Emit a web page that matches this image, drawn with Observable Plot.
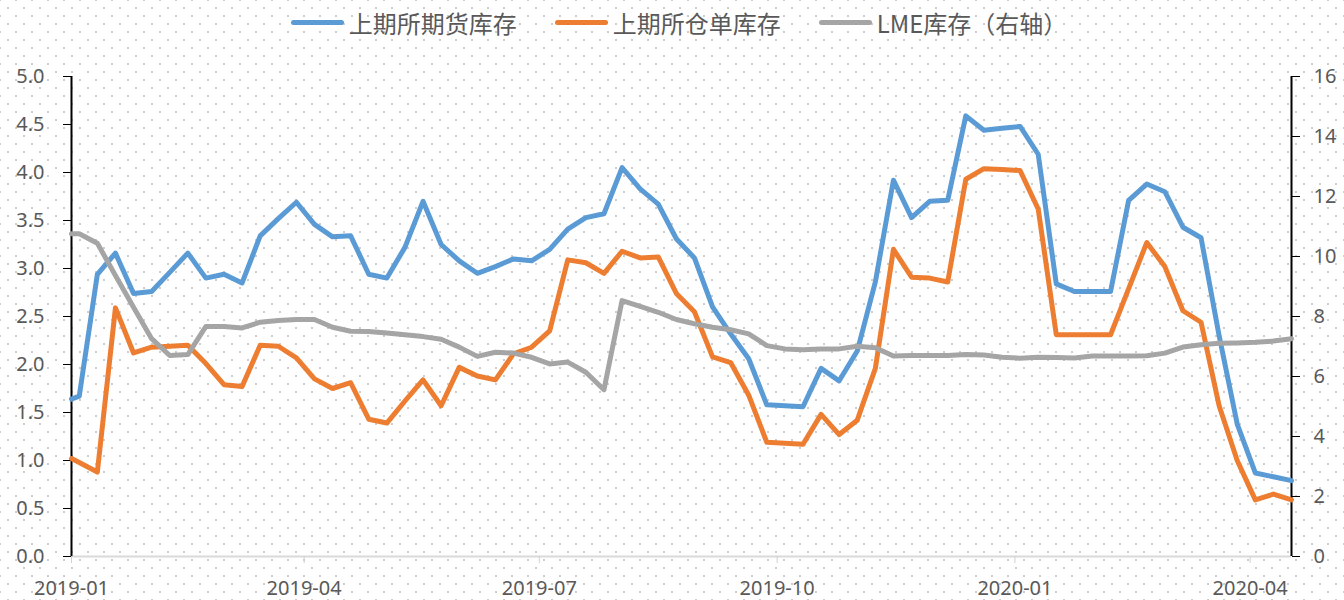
<!DOCTYPE html>
<html>
<head>
<meta charset="utf-8">
<script src="https://cdn.jsdelivr.net/npm/d3@7"></script>
<script src="https://cdn.jsdelivr.net/npm/@observablehq/plot@0.6"></script>
<style>
  html, body { margin: 0; padding: 0; }
  #chart {
    width: 1344px; height: 600px; position: relative; overflow: hidden;
    background-color: #ffffff;
    background-image: radial-gradient(circle, #cccccc 1px, transparent 1.3px),
                      radial-gradient(circle, #cccccc 1px, transparent 1.3px);
    background-size: 16px 16px, 16px 16px;
    background-position: 0 0, 8px 8px;
    font-family: "Noto Sans", "Noto Sans CJK SC", sans-serif;
  }
  #legend {
    height: 44px; display: flex; justify-content: center; align-items: center;
    padding-left: 14px; box-sizing: border-box;
    font-family: "Noto Sans CJK SC", sans-serif; font-size: 24px; color: #595959;
  }
  .item { display: flex; align-items: center; margin: 0 19px; }
  .sw { width: 53px; height: 5px; border-radius: 3px; margin-right: 5px; }
  svg { display: block; }
</style>
</head>
<body>
<div id="chart">
  <div id="legend"></div>
  <div id="plot"></div>
</div>
<script>
// ---- data ----
const dates = [
  "2019-01-01","2019-01-04","2019-01-11","2019-01-18","2019-01-25","2019-02-01","2019-02-08","2019-02-15","2019-02-22",
  "2019-03-01","2019-03-08","2019-03-15","2019-03-22","2019-03-29","2019-04-05","2019-04-12","2019-04-19","2019-04-26",
  "2019-05-03","2019-05-10","2019-05-17","2019-05-24","2019-05-31","2019-06-07","2019-06-14","2019-06-21","2019-06-28",
  "2019-07-05","2019-07-12","2019-07-19","2019-07-26","2019-08-02","2019-08-09","2019-08-16","2019-08-23","2019-08-30",
  "2019-09-06","2019-09-13","2019-09-20","2019-09-27","2019-10-04","2019-10-11","2019-10-18","2019-10-25","2019-11-01",
  "2019-11-08","2019-11-15","2019-11-22","2019-11-29","2019-12-06","2019-12-13","2019-12-20","2019-12-27","2020-01-03",
  "2020-01-10","2020-01-17","2020-01-24","2020-01-31","2020-02-07","2020-02-14","2020-02-21","2020-02-28","2020-03-06",
  "2020-03-13","2020-03-20","2020-03-27","2020-04-03","2020-04-10","2020-04-17"
];
const shfeFutures = [
  1.64,1.67,2.94,3.16,2.74,2.76,2.96,3.16,2.90,2.94,
  2.85,3.34,3.52,3.69,3.46,3.33,3.34,2.94,2.90,3.22,
  3.70,3.25,3.08,2.95,3.02,3.10,3.08,3.20,3.41,3.53,
  3.57,4.05,3.83,3.67,3.31,3.11,2.60,2.32,2.06,1.58,
  1.57,1.56,1.96,1.83,2.14,2.86,3.92,3.53,3.70,3.71,
  4.59,4.44,4.46,4.48,4.19,2.84,2.76,2.76,2.76,3.71,
  3.88,3.80,3.43,3.32,2.30,1.38,0.87,0.83,0.79
];
const shfeWarrant = [
  1.02,0.98,0.88,2.59,2.12,2.18,2.19,2.20,2.01,1.79,
  1.77,2.20,2.19,2.07,1.85,1.75,1.81,1.43,1.39,1.62,
  1.84,1.57,1.97,1.88,1.84,2.11,2.18,2.35,3.09,3.06,
  2.95,3.18,3.11,3.12,2.74,2.55,2.08,2.02,1.68,1.19,
  1.18,1.17,1.48,1.27,1.42,1.96,3.20,2.91,2.90,2.86,
  3.93,4.04,4.03,4.02,3.62,2.31,2.31,2.31,2.31,2.79,
  3.27,3.02,2.56,2.44,1.57,1.00,0.59,0.65,0.59
];
const lmeStock = [
  10.76,10.76,10.44,9.37,8.31,7.26,6.70,6.73,7.67,7.67,
  7.62,7.81,7.87,7.90,7.90,7.64,7.51,7.50,7.45,7.39,
  7.33,7.24,6.98,6.67,6.81,6.78,6.64,6.42,6.48,6.14,
  5.56,8.53,8.34,8.14,7.90,7.76,7.64,7.56,7.42,7.03,
  6.92,6.89,6.92,6.92,7.01,6.96,6.68,6.70,6.70,6.70,
  6.73,6.72,6.64,6.61,6.64,6.63,6.62,6.68,6.68,6.68,
  6.69,6.78,6.98,7.06,7.11,7.12,7.14,7.18,7.26
];
const seriesNames = ["上期所期货库存", "上期所仓单库存", "LME库存（右轴）"];
const seriesColors = ["#5B9BD5", "#ED7D31", "#A5A5A5"];
const leftTicks = [0, 0.5, 1, 1.5, 2, 2.5, 3, 3.5, 4, 4.5, 5];
const rightTicks = [0, 2, 4, 6, 8, 10, 12, 14, 16];
const xTickLabels = ["2019-01", "2019-04", "2019-07", "2019-10", "2020-01", "2020-04"];
const xDomain = ["2019-01-01", "2020-04-17"];
const leftMax = 5, rightMax = 16;

// ---- build ----
const k = leftMax / rightMax;
const parse = d3.utcParse("%Y-%m-%d");
const parseM = d3.utcParse("%Y-%m");
const rows = dates.map((d, i) => ({
  date: parse(d), a: shfeFutures[i], b: shfeWarrant[i], c: lmeStock[i] * k
}));

const legend = document.getElementById("legend");
seriesNames.forEach((n, i) => {
  const it = document.createElement("div");
  it.className = "item";
  const sw = document.createElement("div");
  sw.className = "sw"; sw.style.background = seriesColors[i];
  const tx = document.createElement("span"); tx.textContent = n;
  it.appendChild(sw); it.appendChild(tx); legend.appendChild(it);
});

const lineOpts = {strokeWidth: 5, strokeLinejoin: "round", strokeLinecap: "round"};
const plot = Plot.plot({
  width: 1344, height: 556,
  marginTop: 32, marginBottom: 44, marginLeft: 71, marginRight: 53,
  style: {background: "transparent", fontFamily: "'Noto Sans', sans-serif", fontSize: "20px", overflow: "visible"},
  x: {type: "utc", domain: xDomain.map(parse)},
  y: {domain: [0, leftMax]},
  marks: [
    Plot.ruleY([0], {stroke: "#d9d9d9", strokeWidth: 2}),
    Plot.axisX(xTickLabels.map(parseM), {tickSize: 7, tickPadding: 17, stroke: "#d0d0d0", fill: "#595959",
      tickFormat: d3.utcFormat("%Y-%m"), label: null}),
    Plot.axisY(leftTicks, {anchor: "left", tickSize: 8, tickPadding: 19, stroke: "#000", fill: "#595959",
      tickFormat: d3.format(".1f"), label: null}),
    Plot.axisY(rightTicks.map(v => v * k), {anchor: "right", tickSize: 8, tickPadding: 14, stroke: "#000", fill: "#595959",
      tickFormat: d => String(Math.round(d / k)), label: null}),
    Plot.ruleX([parse(xDomain[0])], {stroke: "#000", strokeWidth: 2}),
    Plot.ruleX([parse(xDomain[1])], {stroke: "#000", strokeWidth: 2}),
    Plot.line(rows, {x: "date", y: "a", stroke: seriesColors[0], ...lineOpts}),
    Plot.line(rows, {x: "date", y: "b", stroke: seriesColors[1], ...lineOpts}),
    Plot.line(rows, {x: "date", y: "c", stroke: seriesColors[2], ...lineOpts})
  ]
});
document.getElementById("plot").appendChild(plot);
</script>
</body>
</html>
